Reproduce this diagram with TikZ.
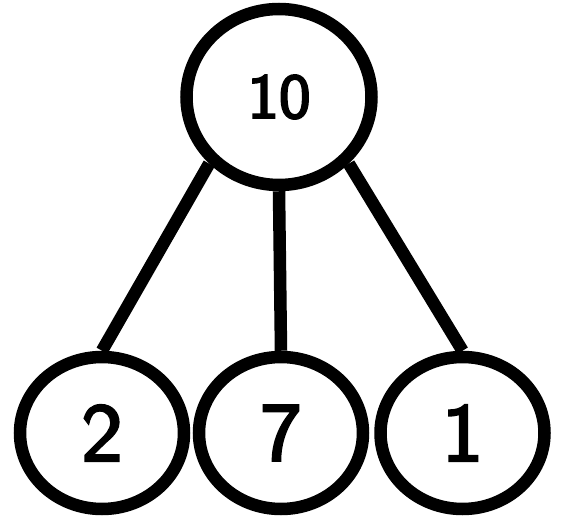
\documentclass[tikz,border=0pt]{standalone}
\usepackage{fontspec}
\newfontfamily\digitfont{Latin Modern Sans}[FakeBold=3]
\usetikzlibrary{shapes.geometric}
\tikzset{
  bignode/.style={ellipse, draw=black, line width=12.5pt, inner sep=0pt,
    minimum width=185pt, minimum height=176pt,
    font=\digitfont\fontsize{64}{64}\selectfont},
  leafnode/.style={ellipse, draw=black, line width=12.5pt, inner sep=0pt,
    minimum width=164pt, minimum height=152pt,
    font=\digitfont\fontsize{83}{83}\selectfont},
  edge/.style={line width=12.5pt, black}
}
\begin{document}
\begin{tikzpicture}[x=1pt,y=-1pt]
\useasboundingbox (0,0) rectangle (576,516);
\node[bignode] (top) at (279,97) {\scalebox{1.05}[1]{10}};
\node[leafnode] (l) at (102,433) {\scalebox{1.05}[1]{2}};
\node[leafnode] (m) at (281,433) {\scalebox{1.05}[1]{7}};
\node[leafnode] (r) at (462.5,433) {\scalebox{1.05}[1]{1}};
\draw[edge] (top.south west) -- (l.north);
\draw[edge] (top.south) -- (m.north);
\draw[edge] (top.south east) -- (r.north);
\end{tikzpicture}
\end{document}
